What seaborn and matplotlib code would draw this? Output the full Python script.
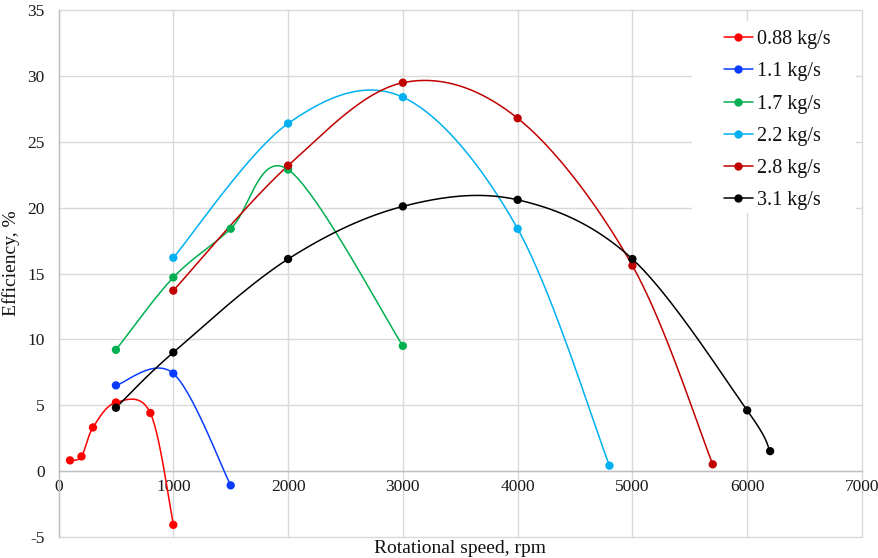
import numpy as np
import pandas as pd
import matplotlib
matplotlib.use("Agg")
import matplotlib.pyplot as plt
from matplotlib.lines import Line2D
from matplotlib.patches import Rectangle
import seaborn as sns

# ---- data ----
labels = ["0.88 kg/s", "1.1 kg/s", "1.7 kg/s", "2.2 kg/s", "2.8 kg/s", "3.1 kg/s"]
colors = ["#FF0000", "#0A3BFF", "#00B050", "#00B0F0", "#C00000", "#000000"]

rpm_088 = [100, 200, 300, 500, 800, 1000]
eff_088 = [0.8, 1.1, 3.3, 5.2, 4.4, -4.1]

rpm_11 = [500, 1000, 1500]
eff_11 = [6.5, 7.4, -1.1]

rpm_17 = [500, 1000, 1500, 2000, 3000]
eff_17 = [9.2, 14.7, 18.4, 22.9, 9.5]

rpm_22 = [1000, 2000, 3000, 4000, 4800]
eff_22 = [16.2, 26.4, 28.4, 18.4, 0.4]

rpm_28 = [1000, 2000, 3000, 4000, 5000, 5700]
eff_28 = [13.7, 23.2, 29.5, 26.8, 15.6, 0.5]

rpm_31 = [500, 1000, 2000, 3000, 4000, 5000, 6000, 6200]
eff_31 = [4.8, 9.0, 16.1, 20.1, 20.6, 16.1, 4.6, 1.5]

x_ticks = [0, 1000, 2000, 3000, 4000, 5000, 6000, 7000]
y_ticks = [-5, 0, 5, 10, 15, 20, 25, 30, 35]

series = [(rpm_088, eff_088), (rpm_11, eff_11), (rpm_17, eff_17),
          (rpm_22, eff_22), (rpm_28, eff_28), (rpm_31, eff_31)]


def smooth_curve(xs, ys, n=40):
    """Excel-like smoothed line (Catmull-Rom Bezier through the points)."""
    P = np.column_stack([xs, ys]).astype(float)
    m = len(P)
    out = []
    for i in range(m - 1):
        p0 = P[i - 1] if i > 0 else P[i]
        p1 = P[i]
        p2 = P[i + 1]
        p3 = P[i + 2] if i + 2 < m else P[i + 1]
        c1 = p1 + (p2 - p0) / 6.0
        c2 = p2 - (p3 - p1) / 6.0
        t = np.linspace(0, 1, n)[:, None]
        seg = ((1 - t) ** 3) * p1 + 3 * ((1 - t) ** 2) * t * c1 + 3 * (1 - t) * t ** 2 * c2 + t ** 3 * p2
        if i > 0:
            seg = seg[1:]
        out.append(seg)
    return np.vstack(out)


sns.set_theme(style="white")
plt.rcParams["font.family"] = ["Liberation Serif", "DejaVu Serif"]

fig = plt.figure(figsize=(8.79, 5.58), dpi=100)
ax = fig.add_axes([0.0666, 0.0382, 0.9140, 0.9433])

grid_c = "#D9D9D9"
for xv in x_ticks:
    ax.axvline(xv, color=grid_c, lw=1.0, zorder=0.5, clip_on=False)
for yv in y_ticks:
    ax.axhline(yv, color=grid_c, lw=1.0, zorder=0.5, clip_on=False)

# white legend background (covers grid)
ax.add_patch(Rectangle((0.788, 0.615), 0.205, 0.365, transform=ax.transAxes,
                       facecolor="white", edgecolor="none", zorder=1, clip_on=False))

for (xs, ys), lab, col in zip(series, labels, colors):
    curve = smooth_curve(xs, ys)
    dfc = pd.DataFrame({"rpm": curve[:, 0], "eff": curve[:, 1]})
    sns.lineplot(data=dfc, x="rpm", y="eff", sort=False, estimator=None,
                 color=col, lw=1.1, ax=ax, zorder=3)
    dfp = pd.DataFrame({"rpm": xs, "eff": ys})
    sns.scatterplot(data=dfp, x="rpm", y="eff", color=col, s=36,
                    edgecolor="none", ax=ax, zorder=4)

ax.set_xlim(0, 7000)
ax.set_ylim(-5, 35)
ax.set_xticks(x_ticks)
ax.set_yticks(y_ticks)
ax.set_xticklabels([str(v) for v in x_ticks])
ax.set_yticklabels([str(v) for v in y_ticks])

for s in ["top", "right"]:
    ax.spines[s].set_visible(False)
ax.spines["left"].set_color("#BFBFBF")
ax.spines["bottom"].set_color("#BFBFBF")
ax.spines["bottom"].set_position(("data", 0))
ax.spines["left"].set_linewidth(1.0)
ax.spines["bottom"].set_linewidth(1.0)

ax.tick_params(axis="both", length=0, labelsize=12.5, colors="#1a1a1a")
ax.tick_params(axis="x", pad=6)
ax.tick_params(axis="y", pad=10)

ax.set_xlabel("Rotational speed, rpm", fontsize=14, color="#111111")
ax.set_ylabel("Efficiency, %", fontsize=14, color="#111111")
ax.xaxis.set_label_coords(0.5, -0.006)
ax.yaxis.set_label_coords(-0.048, 0.52)

handles = [Line2D([0], [0], color=c, lw=1.1, marker="o", markersize=6,
                  markeredgecolor="none") for c in colors]
leg = ax.legend(handles, labels, loc="upper left", bbox_to_anchor=(0.808, 0.993),
                frameon=False, fontsize=14.5, handlelength=1.45, handletextpad=0.2,
                labelspacing=0.65, borderpad=0.3)
for t in leg.get_texts():
    t.set_color("#111111")
leg.set_zorder(5)

fig.savefig("out.png", dpi=100)
